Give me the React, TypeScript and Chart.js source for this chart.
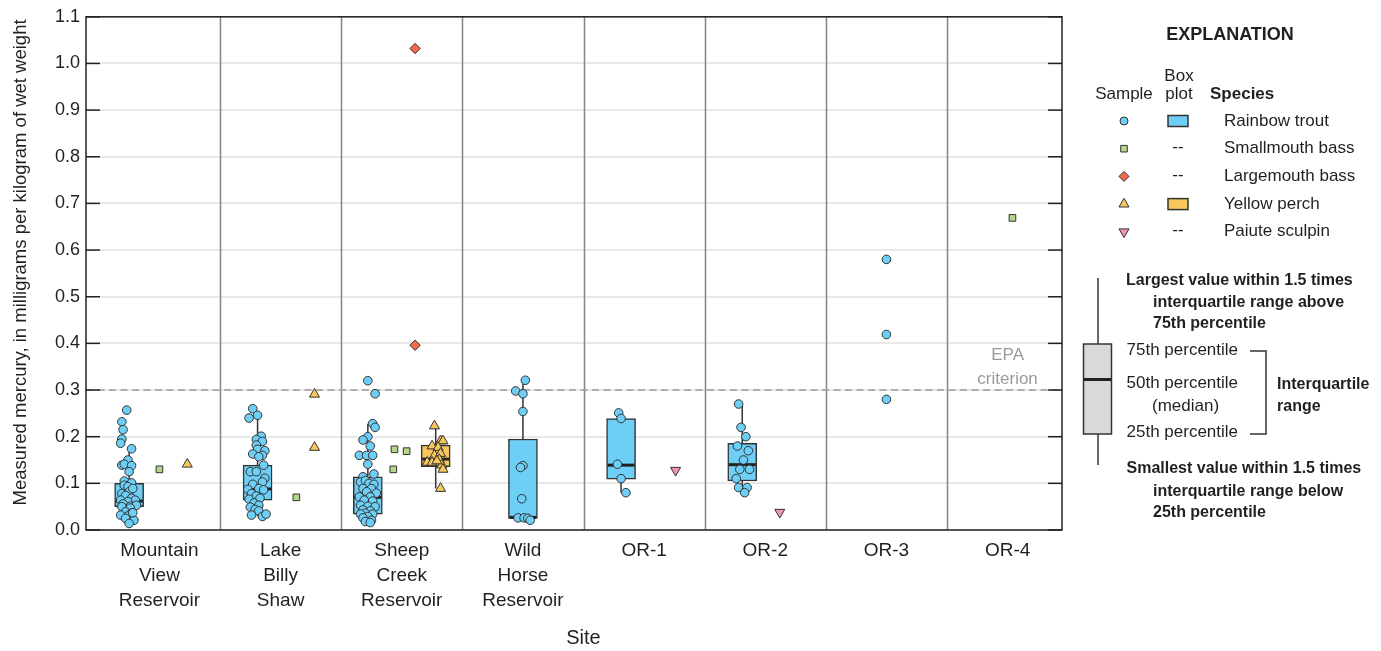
import React, { useEffect, useRef } from 'react';
import { Chart, registerables } from 'chart.js';

Chart.register(...registerables);

const FONT = "'Liberation Sans', Arial, sans-serif";
const INK = '#231f20';

const sites: string[][] = [
  ['Mountain', 'View', 'Reservoir'],
  ['Lake', 'Billy', 'Shaw'],
  ['Sheep', 'Creek', 'Reservoir'],
  ['Wild', 'Horse', 'Reservoir'],
  ['OR-1'],
  ['OR-2'],
  ['OR-3'],
  ['OR-4'],
];

const yTicks = [0, 0.1, 0.2, 0.3, 0.4, 0.5, 0.6, 0.7, 0.8, 0.9, 1.0, 1.1];
const epaCriterion = 0.3;

// [site index, offset within site, mercury mg/kg wet weight]
const rainbowTrout: number[][] = [
  [0, -0.27, 0.257], [0, -0.31, 0.232], [0, -0.30, 0.215], [0, -0.31, 0.195], [0, -0.32, 0.186],
  [0, -0.23, 0.174], [0, -0.26, 0.150], [0, -0.31, 0.139], [0, -0.29, 0.141], [0, -0.23, 0.138],
  [0, -0.25, 0.125], [0, -0.29, 0.105], [0, -0.23, 0.101], [0, -0.29, 0.096], [0, -0.26, 0.093],
  [0, -0.31, 0.078], [0, -0.25, 0.082], [0, -0.22, 0.089], [0, -0.28, 0.074], [0, -0.32, 0.064],
  [0, -0.23, 0.068], [0, -0.20, 0.064], [0, -0.26, 0.061], [0, -0.30, 0.056], [0, -0.24, 0.051],
  [0, -0.19, 0.053], [0, -0.31, 0.050], [0, -0.24, 0.047], [0, -0.28, 0.039], [0, -0.23, 0.036],
  [0, -0.32, 0.032], [0, -0.26, 0.030], [0, -0.21, 0.021], [0, -0.28, 0.025], [0, -0.25, 0.014],
  [0, -0.22, 0.037],
  [1, -0.23, 0.260], [1, -0.19, 0.246], [1, -0.26, 0.240], [1, -0.16, 0.201], [1, -0.20, 0.194],
  [1, -0.15, 0.190], [1, -0.20, 0.182], [1, -0.19, 0.173], [1, -0.13, 0.170], [1, -0.23, 0.163],
  [1, -0.15, 0.160], [1, -0.18, 0.157], [1, -0.14, 0.139], [1, -0.25, 0.125], [1, -0.20, 0.125],
  [1, -0.13, 0.111], [1, -0.15, 0.103], [1, -0.23, 0.098], [1, -0.18, 0.089], [1, -0.27, 0.087],
  [1, -0.14, 0.086], [1, -0.24, 0.078], [1, -0.20, 0.073], [1, -0.17, 0.068], [1, -0.26, 0.066],
  [1, -0.22, 0.058], [1, -0.18, 0.053], [1, -0.25, 0.049], [1, -0.21, 0.044], [1, -0.18, 0.041],
  [1, -0.24, 0.032], [1, -0.15, 0.029], [1, -0.12, 0.034],
  [2, -0.28, 0.320], [2, -0.22, 0.292], [2, -0.24, 0.228], [2, -0.22, 0.220], [2, -0.28, 0.200],
  [2, -0.32, 0.193], [2, -0.26, 0.180], [2, -0.35, 0.160], [2, -0.29, 0.160], [2, -0.24, 0.160],
  [2, -0.28, 0.141], [2, -0.23, 0.120], [2, -0.32, 0.114], [2, -0.34, 0.103], [2, -0.30, 0.106],
  [2, -0.27, 0.100], [2, -0.23, 0.098], [2, -0.32, 0.089], [2, -0.25, 0.089], [2, -0.29, 0.082],
  [2, -0.21, 0.079], [2, -0.35, 0.071], [2, -0.26, 0.071], [2, -0.31, 0.064], [2, -0.24, 0.062],
  [2, -0.34, 0.053], [2, -0.28, 0.051], [2, -0.22, 0.050], [2, -0.32, 0.043], [2, -0.26, 0.041],
  [2, -0.30, 0.036], [2, -0.24, 0.034], [2, -0.34, 0.034], [2, -0.28, 0.029], [2, -0.32, 0.026],
  [2, -0.25, 0.021], [2, -0.30, 0.018], [2, -0.26, 0.016],
  [3, 0.02, 0.321], [3, -0.06, 0.298], [3, 0.0, 0.292], [3, 0.0, 0.254], [3, 0.0, 0.138],
  [3, -0.02, 0.134], [3, -0.01, 0.067], [3, -0.04, 0.026], [3, 0.01, 0.026], [3, 0.04, 0.025],
  [3, 0.06, 0.021],
  [4, -0.21, 0.251], [4, -0.19, 0.239], [4, -0.22, 0.141], [4, -0.19, 0.110], [4, -0.15, 0.080],
  [5, -0.22, 0.270], [5, -0.20, 0.220], [5, -0.16, 0.200], [5, -0.23, 0.180], [5, -0.14, 0.170],
  [5, -0.18, 0.150], [5, -0.21, 0.130], [5, -0.13, 0.130], [5, -0.24, 0.110], [5, -0.22, 0.091],
  [5, -0.15, 0.091], [5, -0.17, 0.080],
  [6, 0.0, 0.580], [6, 0.0, 0.419], [6, 0.0, 0.280],
];

const smallmouthBass: number[][] = [
  [0, 0.0, 0.130], [1, 0.13, 0.070], [2, -0.06, 0.173], [2, 0.04, 0.169], [2, -0.07, 0.130], [7, 0.04, 0.669],
];

const largemouthBass: number[][] = [
  [2, 0.11, 1.032], [2, 0.11, 0.396],
];

const yellowPerch: number[][] = [
  [0, 0.23, 0.141], [1, 0.28, 0.291], [1, 0.28, 0.177],
  [2, 0.27, 0.223], [2, 0.32, 0.191], [2, 0.34, 0.191], [2, 0.25, 0.180], [2, 0.30, 0.177],
  [2, 0.27, 0.160], [2, 0.32, 0.164], [2, 0.21, 0.145], [2, 0.25, 0.145], [2, 0.31, 0.151],
  [2, 0.33, 0.139], [2, 0.34, 0.130], [2, 0.29, 0.148], [2, 0.32, 0.089],
];

const paiuteSculpin: number[][] = [
  [4, 0.26, 0.128], [5, 0.12, 0.038],
];

// Box plots
const boxSite = [0, 1, 2, 2, 3, 4, 5];
const boxOffset = [-0.25, -0.19, -0.28, 0.28, 0.0, -0.19, -0.19];
const boxSpecies = ['trout', 'trout', 'trout', 'perch', 'trout', 'trout', 'trout'];
const boxQ1 = [0.050, 0.064, 0.034, 0.136, 0.025, 0.109, 0.105];
const boxMedian = [0.062, 0.088, 0.070, 0.152, 0.027, 0.139, 0.140];
const boxQ3 = [0.100, 0.139, 0.114, 0.182, 0.195, 0.239, 0.186];
const boxLow = [0.014, 0.029, 0.016, 0.089, 0.021, 0.080, 0.080];
const boxHigh = [0.174, 0.246, 0.228, 0.223, 0.321, 0.251, 0.270];

const COLORS: Record<string, string> = {
  trout: '#6dcff6',
  smallmouth: '#b3d68a',
  largemouth: '#f26a4a',
  perch: '#f8c75c',
  sculpin: '#f392b9',
};

const toXY = (arr: number[][]) => arr.map(([s, d, v]) => ({ x: s + d, y: v }));

function drawMarker(ctx: CanvasRenderingContext2D, style: string, x: number, y: number, fill: string) {
  ctx.save();
  ctx.fillStyle = fill;
  ctx.strokeStyle = '#333';
  ctx.lineWidth = 1;
  ctx.beginPath();
  if (style === 'circle') {
    ctx.arc(x, y, 4, 0, Math.PI * 2);
  } else if (style === 'rect') {
    ctx.rect(x - 3.3, y - 3.3, 6.6, 6.6);
  } else if (style === 'diamond') {
    ctx.moveTo(x, y - 5); ctx.lineTo(x + 5, y); ctx.lineTo(x, y + 5); ctx.lineTo(x - 5, y); ctx.closePath();
  } else if (style === 'up') {
    const r = 5.8;
    ctx.moveTo(x, y - r); ctx.lineTo(x + r * 0.866, y + r * 0.5); ctx.lineTo(x - r * 0.866, y + r * 0.5); ctx.closePath();
  } else if (style === 'down') {
    const r = 5.8;
    ctx.moveTo(x, y + r); ctx.lineTo(x + r * 0.866, y - r * 0.5); ctx.lineTo(x - r * 0.866, y - r * 0.5); ctx.closePath();
  }
  ctx.fill();
  ctx.stroke();
  ctx.restore();
}

function txt(ctx: CanvasRenderingContext2D, s: string, x: number, y: number, size: number, bold = false, align: CanvasTextAlign = 'left', color = INK) {
  ctx.save();
  ctx.font = `${bold ? 'bold ' : ''}${size}px ${FONT}`;
  ctx.fillStyle = color;
  ctx.textAlign = align;
  ctx.textBaseline = 'middle';
  ctx.fillText(s, x, y);
  ctx.restore();
}

function line(ctx: CanvasRenderingContext2D, x1: number, y1: number, x2: number, y2: number) {
  ctx.beginPath();
  ctx.moveTo(x1, y1);
  ctx.lineTo(x2, y2);
  ctx.stroke();
}

const decorPlugin = {
  id: 'decor',
  beforeDatasetsDraw(chart: any) {
    const { ctx, chartArea: a, scales } = chart;
    const x = scales.x, y = scales.y;
    ctx.save();
    // site dividers
    ctx.strokeStyle = '#858585';
    ctx.lineWidth = 1.5;
    for (let i = 0; i < sites.length - 1; i++) {
      const px = Math.round(x.getPixelForValue(i + 0.5)) + 0.5;
      line(ctx, px, a.top, px, a.bottom);
    }
    // EPA criterion
    const ey = y.getPixelForValue(epaCriterion);
    ctx.strokeStyle = '#9c9c9c';
    ctx.lineWidth = 1.5;
    ctx.setLineDash([7, 4.5]);
    line(ctx, a.left, ey, a.right, ey);
    ctx.setLineDash([]);
    const ex = x.getPixelForValue(sites.length - 1);
    txt(ctx, 'EPA', ex, ey - 35, 17, false, 'center', '#9a9a9a');
    txt(ctx, 'criterion', ex, ey - 11, 17, false, 'center', '#9a9a9a');
    // whiskers
    ctx.strokeStyle = '#333';
    ctx.lineWidth = 1.5;
    boxSite.forEach((s, i) => {
      const px = x.getPixelForValue(s + boxOffset[i]);
      line(ctx, px, y.getPixelForValue(boxQ3[i]), px, y.getPixelForValue(boxHigh[i]));
      line(ctx, px, y.getPixelForValue(boxQ1[i]), px, y.getPixelForValue(boxLow[i]));
    });
    ctx.restore();
  },
  afterDatasetDraw(chart: any, args: any) {
    if (args.meta.type !== 'bar') return;
    const { ctx, scales } = chart;
    const y = scales.y;
    ctx.save();
    ctx.strokeStyle = '#222';
    ctx.lineWidth = 3;
    args.meta.data.forEach((el: any, i: number) => {
      const my = y.getPixelForValue(boxMedian[i]);
      line(ctx, el.x - el.width / 2 + 1, my, el.x + el.width / 2 - 1, my);
    });
    ctx.restore();
  },
  afterDraw(chart: any) {
    const { ctx, chartArea: a, scales } = chart;
    const x = scales.x, y = scales.y;
    ctx.save();
    // frame
    ctx.strokeStyle = '#222';
    ctx.lineWidth = 1.5;
    ctx.strokeRect(a.left, a.top, a.right - a.left, a.bottom - a.top);
    // inner ticks on both sides
    yTicks.forEach((v) => {
      const py = y.getPixelForValue(v);
      line(ctx, a.left, py, a.left + 14, py);
      line(ctx, a.right - 14, py, a.right, py);
    });
    // axis titles
    ctx.save();
    ctx.translate(21, (a.top + a.bottom) / 2 - 11);
    ctx.rotate(-Math.PI / 2);
    txt(ctx, 'Measured mercury, in milligrams per kilogram of wet weight', 0, 0, 18.5, false, 'center');
    ctx.restore();
    txt(ctx, 'Site', x.getPixelForValue((sites.length - 1) / 2), 638, 20, false, 'center');

    // Legend
    txt(ctx, 'EXPLANATION', 1230, 35, 18, true, 'center');
    txt(ctx, 'Box', 1179, 76, 17, false, 'center');
    txt(ctx, 'plot', 1179, 94, 17, false, 'center');
    txt(ctx, 'Sample', 1124, 94, 17, false, 'center');
    txt(ctx, 'Species', 1210, 94, 17, true, 'left');
    const rows: [string, string, string, boolean][] = [
      ['circle', COLORS.trout, 'Rainbow trout', true],
      ['rect', COLORS.smallmouth, 'Smallmouth bass', false],
      ['diamond', COLORS.largemouth, 'Largemouth bass', false],
      ['up', COLORS.perch, 'Yellow perch', true],
      ['down', COLORS.sculpin, 'Paiute sculpin', false],
    ];
    rows.forEach(([style, color, name, hasBox], i) => {
      const ry = 121 + i * 27.7;
      drawMarker(ctx, style, 1124, ry, color);
      if (hasBox) {
        ctx.fillStyle = color;
        ctx.strokeStyle = '#333';
        ctx.lineWidth = 1.5;
        ctx.fillRect(1168, ry - 5.5, 20, 11);
        ctx.strokeRect(1168, ry - 5.5, 20, 11);
      } else {
        txt(ctx, '--', 1178, ry - 1, 17, false, 'center');
      }
      txt(ctx, name, 1224, ry, 17, false, 'left');
    });

    // Box plot key
    ctx.strokeStyle = '#333';
    ctx.lineWidth = 1.5;
    line(ctx, 1098, 278, 1098, 465);
    ctx.fillStyle = '#d9d9d9';
    ctx.fillRect(1083.5, 344, 28, 90);
    ctx.strokeRect(1083.5, 344, 28, 90);
    ctx.strokeStyle = '#222';
    ctx.lineWidth = 3;
    line(ctx, 1084, 379.5, 1111, 379.5);
    ctx.strokeStyle = '#333';
    ctx.lineWidth = 1.5;
    ctx.beginPath();
    ctx.moveTo(1250, 351);
    ctx.lineTo(1266, 351);
    ctx.lineTo(1266, 434);
    ctx.lineTo(1250, 434);
    ctx.stroke();

    txt(ctx, 'Largest value within 1.5 times', 1126, 281, 16, true);
    txt(ctx, 'interquartile range above', 1153, 302.5, 16, true);
    txt(ctx, '75th percentile', 1153, 323.5, 16, true);
    txt(ctx, '75th percentile', 1126.5, 350, 17);
    txt(ctx, '50th percentile', 1126.5, 383.5, 17);
    txt(ctx, '(median)', 1152, 406.5, 17);
    txt(ctx, '25th percentile', 1126.5, 432.5, 17);
    txt(ctx, 'Interquartile', 1277, 385, 16, true);
    txt(ctx, 'range', 1277, 407, 16, true);
    txt(ctx, 'Smallest value within 1.5 times', 1126.5, 469, 16, true);
    txt(ctx, 'interquartile range below', 1153, 491.5, 16, true);
    txt(ctx, '25th percentile', 1153, 512.5, 16, true);
    ctx.restore();
  },
};

export default function App() {
  const ref = useRef<HTMLCanvasElement>(null);

  useEffect(() => {
    if (!ref.current) return;
    const scatterBase = { type: 'scatter' as const, borderColor: '#333', borderWidth: 1, order: 1 };
    const chart = new Chart(ref.current, {
      type: 'scatter',
      data: {
        datasets: [
          { ...scatterBase, label: 'Rainbow trout', data: toXY(rainbowTrout), pointStyle: 'circle', pointRadius: 4.3, backgroundColor: COLORS.trout },
          { ...scatterBase, label: 'Smallmouth bass', data: toXY(smallmouthBass), pointStyle: 'rect', pointRadius: 4.7, backgroundColor: COLORS.smallmouth },
          { ...scatterBase, label: 'Largemouth bass', data: toXY(largemouthBass), pointStyle: 'rectRot', pointRadius: 5.2, backgroundColor: COLORS.largemouth },
          { ...scatterBase, label: 'Yellow perch', data: toXY(yellowPerch), pointStyle: 'triangle', pointRadius: 5.8, backgroundColor: COLORS.perch },
          { ...scatterBase, label: 'Paiute sculpin', data: toXY(paiuteSculpin), pointStyle: 'triangle', pointRotation: 180, pointRadius: 5.8, backgroundColor: COLORS.sculpin },
          {
            type: 'bar',
            label: 'Box plots',
            data: boxSite.map((s, i) => ({ x: s + boxOffset[i], y: [boxQ1[i], boxQ3[i]] })) as any,
            backgroundColor: boxSpecies.map((sp) => COLORS[sp]),
            borderColor: '#333',
            borderWidth: 1.5,
            borderSkipped: false,
            barThickness: 29,
            grouped: false,
            order: 2,
          } as any,
        ],
      },
      options: {
        animation: false,
        responsive: false,
        devicePixelRatio: 1,
        layout: { padding: { top: 16, right: 319, left: 0, bottom: 0 } },
        plugins: { legend: { display: false }, tooltip: { enabled: false } },
        scales: {
          x: {
            type: 'linear',
            offset: false,
            min: -0.606,
            max: 7.449,
            afterBuildTicks: (s: any) => { s.ticks = sites.map((_, i) => ({ value: i })); },
            afterFit: (s: any) => { s.height = 121; },
            ticks: {
              autoSkip: false,
              maxRotation: 0,
              padding: 8,
              color: INK,
              font: { family: FONT, size: 19, lineHeight: 25 / 19 },
              callback: (v: any) => sites[Math.round(Number(v))],
            },
            grid: { display: false, drawTicks: false, offset: false },
            border: { display: false },
          },
          y: {
            type: 'linear',
            min: 0,
            max: 1.1,
            afterBuildTicks: (s: any) => { s.ticks = yTicks.map((v) => ({ value: v })); },
            afterFit: (s: any) => { s.width = 86; },
            ticks: {
              padding: 6,
              color: INK,
              font: { family: FONT, size: 18 },
              callback: (v: any) => Number(v).toFixed(1),
            },
            grid: { color: '#e8e8e8', lineWidth: 2, drawTicks: false },
            border: { display: false },
          },
        },
      } as any,
      plugins: [decorPlugin],
    });
    return () => chart.destroy();
  }, []);

  return (
    <div style={{ position: 'absolute', left: 0, top: 0, width: 1381, height: 651, background: '#fff' }}>
      <canvas ref={ref} width={1381} height={651} style={{ display: 'block' }} />
    </div>
  );
}
